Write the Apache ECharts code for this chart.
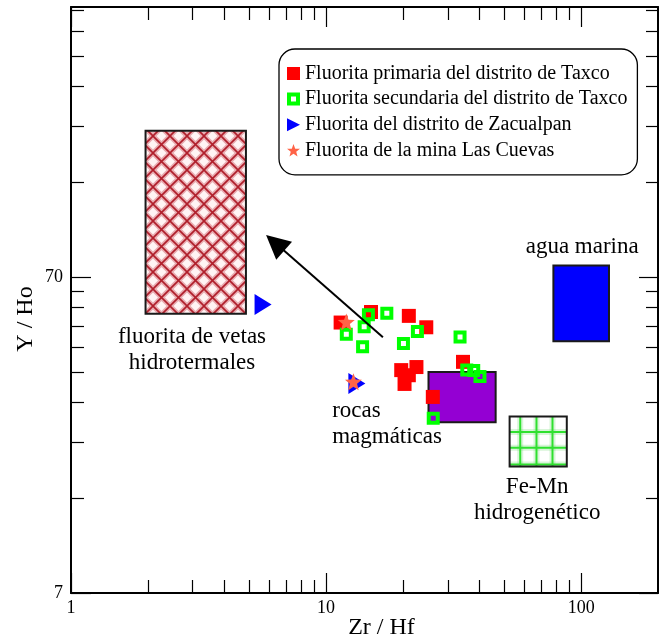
<!DOCTYPE html>
<html>
<head>
<meta charset="utf-8">
<script src="https://cdn.jsdelivr.net/npm/echarts@6/dist/echarts.min.js"></script>
<style>html,body{margin:0;padding:0;background:#fff}#chart{width:660px;height:639px}</style>
</head>
<body>
<div id="chart"></div>
<script>
// ---- axis ticks / labels ----
const xMajorTicks = [1, 10, 100];
const xMinorTicks = [2, 3, 4, 5, 6, 7, 8, 9, 20, 30, 40, 50, 60, 70, 80, 90];
const yMajorTicks = [7, 70];
const yMinorTicks = [14, 21, 28, 35, 42, 49, 56, 63, 140, 210, 280, 350, 420, 490];
const xRange = [1, 200];
const yRange = [7, 500];

// ---- series data: [Zr/Hf, Y/Ho] ----
const primariaTaxco = [[11.4, 50.2], [15.0, 54.2], [21.1, 52.7], [24.7, 48.5], [19.7, 35.5],
  [22.6, 36.3], [21.1, 34.2], [20.3, 32.1], [34.4, 37.7], [26.2, 29.2]];
const secundariaTaxco = [[14.65, 53.1], [17.3, 53.7], [14.1, 48.7], [12.0, 46.1], [13.9, 42.1],
  [20.1, 43.1], [22.8, 47.0], [33.5, 45.2], [35.6, 35.5], [37.9, 35.4], [40.1, 33.9], [26.3, 25.0]];
const zacualpan = [[5.66, 57.3], [13.2, 32.2]];
const lasCuevas = [[12.0, 50.4], [12.8, 32.6]];

// ---- fields: [xMin, xMax, yMin, yMax] ----
const boxVetas = [1.96, 4.85, 53.5, 203];
const boxMagmaticas = [25.2, 46.2, 24.3, 35];
const boxAguaMarina = [77.8, 128.5, 43.8, 76];
const boxFeMn = [52.4, 87.8, 17.6, 25.3];

// ---- arrow [tail, head] ----
const arrowCoords = [[16.7, 45.1], [6.31, 89.7]];

// ---- annotations ----
const annotationTexts = ['agua marina', 'fluorita de vetas\nhidrotermales', 'rocas\nmagmáticas', 'Fe-Mn\nhidrogenético'];
const annotationPos = [[100.9, 87.1], [2.98, 41.1], [10.56, 23.9], [67.2, 13.8]];

const seriesNames = ['Fluorita primaria del distrito de Taxco', 'Fluorita secundaria del distrito de Taxco',
  'Fluorita del distrito de Zacualpan', 'Fluorita de la mina Las Cuevas'];

const FONT = 'Liberation Serif';
const FRAME = 'path://M0,0H13V13H0Z M4,4V9H9V4Z';
const TRI = 'path://M0,0L10,5L0,10Z';
const STAR = 'path://M50,0L62.5,33L97.6,34.5L70,56L79.4,90.5L50,71L20.6,90.5L30,56L2.4,34.5L37.5,33Z';

function hatchCanvas() {
  const s = 17, c = document.createElement('canvas');
  c.width = s; c.height = s;
  const g = c.getContext('2d');
  g.fillStyle = '#fff4f4'; g.fillRect(0, 0, s, s);
  function lines() { g.beginPath(); g.moveTo(-2, -2); g.lineTo(s + 2, s + 2); g.moveTo(s + 2, -2); g.lineTo(-2, s + 2); g.stroke(); }
  g.strokeStyle = 'rgba(200,70,80,0.42)'; g.lineWidth = 5; lines();
  g.strokeStyle = '#b01f2b'; g.lineWidth = 1.6; lines();
  return c;
}
const hatch = hatchCanvas();

function boxRender(kind) {
  return function (params, api) {
    const a = api.coord([api.value(0), api.value(3)]);
    const b = api.coord([api.value(1), api.value(2)]);
    const x = a[0], y = a[1], w = b[0] - a[0], h = b[1] - a[1];
    const children = [];
    let fill;
    if (kind === 'hatch') fill = { image: hatch, repeat: 'repeat' };
    else if (kind === 'grid') fill = '#fff';
    else fill = kind;
    children.push({ type: 'rect', shape: { x: x, y: y, width: w, height: h }, style: { fill: fill } });
    if (kind === 'grid') {
      const vx = [0.186, 0.47, 0.75], hy = [0.308, 0.627, 0.96];
      [[6, 'rgba(80,210,80,0.22)'], [2, '#2fe02f']].forEach(function (st) {
        vx.forEach(function (f) {
          children.push({ type: 'line', shape: { x1: x + f * w, y1: y, x2: x + f * w, y2: y + h }, style: { stroke: st[1], lineWidth: st[0] } });
        });
        hy.forEach(function (f) {
          children.push({ type: 'line', shape: { x1: x, y1: y + f * h, x2: x + w, y2: y + f * h }, style: { stroke: st[1], lineWidth: st[0] } });
        });
      });
    }
    children.push({ type: 'rect', shape: { x: x, y: y, width: w, height: h }, style: { fill: 'none', stroke: '#1a1a1a', lineWidth: 2 } });
    return { type: 'group', children: children };
  };
}

function boxSeries(box, kind) {
  return {
    type: 'custom', coordinateSystem: 'cartesian2d', xAxisIndex: 0, yAxisIndex: 0,
    renderItem: boxRender(kind), data: [box], encode: { x: [0, 1], y: [2, 3] },
    silent: true, z: 1
  };
}

function mkAxis(isX, pos, vals, len, withLabels, showLine) {
  const range = isX ? xRange : yRange;
  const ax = {
    type: 'log', logBase: 10, position: pos, min: range[0], max: range[1], gridIndex: 0,
    axisLine: { show: showLine, onZero: false, lineStyle: { color: '#000', width: 2 } },
    axisTick: { show: true, inside: true, length: len, customValues: vals, lineStyle: { color: '#000', width: 1.2 } },
    axisLabel: { show: false },
    splitLine: { show: false }, minorTick: { show: false }, minorSplitLine: { show: false },
    axisPointer: { show: false }
  };
  if (withLabels) {
    ax.axisLabel = {
      show: true, customValues: vals, color: '#000', fontFamily: FONT, fontSize: 18,
      margin: isX ? 6 : 8,
      formatter: function (v) { return String(Math.round(v)); }
    };
  }
  return ax;
}

const xAxes = [
  mkAxis(true, 'bottom', xMajorTicks, 20, true, true),
  mkAxis(true, 'bottom', xMinorTicks, 13, false, false),
  mkAxis(true, 'top', xMajorTicks, 20, false, true),
  mkAxis(true, 'top', xMinorTicks, 13, false, false)
];
Object.assign(xAxes[0], {
  name: 'Zr / Hf', nameLocation: 'middle', nameGap: 23, nameMoveOverlap: false,
  nameTextStyle: { fontFamily: FONT, fontSize: 24, color: '#000', padding: [0, 0, 0, 34] }
});
const yAxes = [
  mkAxis(false, 'left', yMajorTicks, 20, true, true),
  mkAxis(false, 'left', yMinorTicks, 13, false, false),
  mkAxis(false, 'right', yMajorTicks, 19, false, true),
  mkAxis(false, 'right', yMinorTicks, 12, false, false)
];
Object.assign(yAxes[0], {
  name: 'Y / Ho', nameLocation: 'middle', nameGap: 33, nameMoveOverlap: false,
  nameTextStyle: { fontFamily: FONT, fontSize: 24, color: '#000', padding: [0, 38, 0, 0] }
});

const chart = echarts.init(document.getElementById('chart'), null, { renderer: 'canvas', width: 660, height: 639 });
chart.setOption({
  animation: false,
  backgroundColor: '#fff',
  textStyle: { fontFamily: FONT },
  grid: { left: 71, top: 7, width: 587, height: 586, containLabel: false, outerBoundsMode: 'none' },
  xAxis: xAxes,
  yAxis: yAxes,
  legend: {
    left: 279, top: 49, orient: 'vertical',
    padding: [14.5, 10, 14.5, 8], itemGap: 5.6, itemWidth: 13, itemHeight: 13,
    borderColor: '#000', borderWidth: 1.3, borderRadius: 16, backgroundColor: 'transparent',
    selectedMode: false,
    textStyle: { fontFamily: FONT, fontSize: 20, color: '#000', lineHeight: 20 },
    data: [
      { name: seriesNames[0], icon: 'rect' },
      { name: seriesNames[1], icon: FRAME },
      { name: seriesNames[2], icon: TRI },
      { name: seriesNames[3], icon: STAR }
    ]
  },
  series: [
    boxSeries(boxVetas, 'hatch'),
    boxSeries(boxMagmaticas, '#9400d3'),
    boxSeries(boxAguaMarina, '#0000ff'),
    boxSeries(boxFeMn, 'grid'),
    {
      name: seriesNames[0], type: 'scatter', data: primariaTaxco, symbol: 'rect', symbolSize: 14,
      itemStyle: { color: '#ff0000', opacity: 1 }, z: 3
    },
    {
      name: seriesNames[1], type: 'scatter', data: secundariaTaxco, symbol: FRAME, symbolSize: 13,
      itemStyle: { color: '#00ff00', opacity: 1 }, z: 4
    },
    {
      name: seriesNames[2], type: 'scatter', data: zacualpan, symbol: TRI, symbolSize: [17, 21],
      itemStyle: { color: '#0000ff', opacity: 1 }, z: 5
    },
    {
      name: seriesNames[3], type: 'scatter', data: lasCuevas, symbol: STAR, symbolSize: 17,
      itemStyle: { color: '#ff6347', opacity: 1 }, z: 6
    },
    {
      type: 'lines', coordinateSystem: 'cartesian2d', xAxisIndex: 0, yAxisIndex: 0,
      symbol: ['none', 'triangle'], symbolSize: [18, 24], silent: true, z: 7,
      lineStyle: { color: '#000', width: 2, opacity: 1 },
      data: [{ coords: arrowCoords }]
    },
    {
      name: 'anotaciones', type: 'scatter', symbolSize: 1, silent: true, z: 8,
      itemStyle: { color: 'rgba(0,0,0,0)', opacity: 1 },
      label: {
        show: true, position: 'inside', formatter: '{b}', color: '#000', opacity: 1,
        fontFamily: FONT, fontSize: 23, lineHeight: 26, align: 'center', verticalAlign: 'middle'
      },
      data: annotationTexts.map(function (t, i) {
        const d = { name: t, value: annotationPos[i] };
        if (i === 2) d.label = { align: 'left' };
        return d;
      })
    }
  ]
});
</script>
</body>
</html>
